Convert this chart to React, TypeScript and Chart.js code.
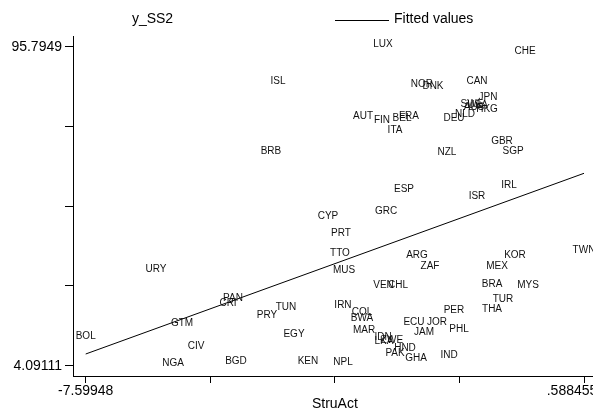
import { useEffect, useRef } from 'react';
import { Chart, registerables } from 'chart.js';

Chart.register(...registerables);

const countries = [
  'LUX', 'CHE', 'ISL', 'NOR', 'DNK', 'CAN', 'JPN', 'SWE', 'AUS', 'USA', 'HKG', 'NLD', 'DEU',
  'AUT', 'FIN', 'BEL', 'FRA', 'ITA', 'BRB', 'GBR', 'SGP', 'NZL', 'ESP', 'IRL', 'ISR',
  'CYP', 'GRC', 'PRT', 'TTO', 'ARG', 'KOR', 'TWN', 'ZAF', 'MEX', 'MUS', 'URY',
  'VEN', 'CHL', 'BRA', 'MYS', 'TUR', 'THA', 'PER', 'IRN', 'COL', 'BWA', 'ECU',
  'JOR', 'PHL', 'MAR', 'JAM', 'IDN', 'LKA', 'ZWE', 'HND', 'PAK', 'GHA', 'IND',
  'KEN', 'NPL', 'NGA', 'BGD', 'EGY', 'TUN', 'PRY', 'PAN', 'CRI', 'GTM', 'BOL', 'CIV',
];

const struAct = [
  -2.714, -0.381, -4.44, -2.074, -1.893, -1.17, -0.989, -1.252, -1.219, -1.16, -1.005, -1.367, -1.548,
  -3.043, -2.731, -2.402, -2.287, -2.517, -4.555, -0.759, -0.578, -1.663, -2.369, -0.644, -1.17,
  -3.618, -2.665, -3.405, -3.421, -2.156, -0.546, 0.588455, -1.942, -0.841, -3.355, -6.444,
  -2.706, -2.468, -0.923, -0.332, -0.743, -0.923, -1.548, -3.372, -3.06, -3.06, -2.205,
  -1.827, -1.466, -3.026, -2.041, -2.714, -2.698, -2.567, -2.353, -2.517, -2.172, -1.63,
  -3.947, -3.372, -6.165, -5.13, -4.177, -4.308, -4.62, -5.179, -5.261, -6.017, -7.59948, -5.787,
];

const ySS2 = [
  95.7949, 93.61, 85.1, 84.24, 83.55, 85.1, 80.39, 78.57, 77.57, 78.1, 77.05, 75.61, 74.35,
  74.92, 73.98, 74.46, 75.04, 71.01, 64.86, 67.74, 65.06, 64.78, 54.05, 55.09, 51.93,
  46.18, 47.61, 41.29, 35.54, 34.97, 34.97, 36.6, 31.8, 31.8, 30.65, 30.94,
  26.34, 26.34, 26.63, 26.34, 22.32, 19.44, 19.27, 20.79, 18.58, 16.85, 15.91,
  15.82, 13.81, 13.4, 12.94, 11.39, 10.24, 10.64, 8.34, 6.79, 5.47, 6.22,
  4.61, 4.41, 4.09111, 4.69, 12.37, 20.02, 17.92, 22.72, 21.17, 15.53, 11.68, 8.8,
];

const fitX = [-7.59948, 0.588455];
const fitY = [7.45, 59.4];

const xTickValues = [-7.59948, -5.5525, -3.50551, -1.45853, 0.588455];
const xTickLabels = ['-7.59948', '', '', '', '.588455'];
const yTickValues = [4.09111, 27.017, 49.943, 72.8689, 95.7949];
const yTickLabels = ['4.09111', '', '', '', '95.7949'];

const FONT = '"Liberation Sans", Arial, Helvetica, sans-serif';

const labelPlugin = {
  id: 'countryLabels',
  afterDatasetsDraw(chart: any) {
    const ctx = chart.ctx;
    const meta = chart.getDatasetMeta(0);
    ctx.save();
    ctx.fillStyle = '#111';
    ctx.textAlign = 'center';
    ctx.textBaseline = 'alphabetic';
    ctx.font = `10px ${FONT}`;
    meta.data.forEach((el: any, i: number) => {
      ctx.fillText(countries[i], el.x, el.y);
    });

    // legend
    ctx.font = `14px ${FONT}`;
    ctx.fillStyle = '#000';
    ctx.textAlign = 'center';
    ctx.fillText('y_SS2', 152.5, 23);
    ctx.strokeStyle = '#000';
    ctx.lineWidth = 1;
    ctx.beginPath();
    ctx.moveTo(335, 20.5);
    ctx.lineTo(389, 20.5);
    ctx.stroke();
    ctx.textAlign = 'left';
    ctx.fillText('Fitted values', 394, 23);

    // x tick labels (last one pulled inward, as in the original)
    const xs = chart.scales.x;
    ctx.textBaseline = 'middle';
    xTickValues.forEach((v, i) => {
      const t = xTickLabels[i];
      if (!t) return;
      const px = xs.getPixelForValue(v);
      ctx.textAlign = 'center';
      const shift = i === xTickValues.length - 1 ? -12 : 0;
      ctx.fillText(t, px + shift, xs.top + 7 + 8.4);
    });

    // x axis title
    ctx.textBaseline = 'alphabetic';
    ctx.textAlign = 'center';
    ctx.fillText('StruAct', xs.getPixelForValue(xTickValues[2]), 408);
    ctx.restore();
  },
};

export default function App() {
  const ref = useRef<HTMLCanvasElement | null>(null);

  useEffect(() => {
    document.body.style.margin = '0';
    if (!ref.current) return;
    const chart = new Chart(ref.current, {
      type: 'scatter',
      data: {
        datasets: [
          {
            label: 'y_SS2',
            data: struAct.map((x, i) => ({ x, y: ySS2[i] })),
            pointRadius: 0,
            pointHoverRadius: 0,
            showLine: false,
          },
          {
            label: 'Fitted values',
            data: fitX.map((x, i) => ({ x, y: fitY[i] })),
            showLine: true,
            borderColor: '#000',
            borderWidth: 1,
            pointRadius: 0,
            fill: false,
          },
        ],
      },
      options: {
        responsive: false,
        animation: false,
        events: [],
        layout: { padding: { top: 36, left: 0, right: 0, bottom: 0 } },
        plugins: {
          legend: { display: false },
          title: { display: false },
          tooltip: { enabled: false },
        },
        scales: {
          x: {
            type: 'linear',
            min: -7.8082,
            max: 0.7363,
            afterBuildTicks: (s: any) => {
              s.ticks = xTickValues.map((v) => ({ value: v }));
            },
            afterFit: (s: any) => {
              s.height = 34;
              s.paddingLeft = 0;
              s.paddingRight = 0;
              s.paddingTop = 0;
              s.paddingBottom = 0;
            },
            grid: {
              display: true,
              drawOnChartArea: false,
              drawTicks: true,
              tickLength: 7,
              color: '#000',
            },
            border: { display: true, color: '#000', width: 1 },
            ticks: {
              autoSkip: false,
              maxRotation: 0,
              minRotation: 0,
              padding: 0,
              color: '#000',
              font: { family: FONT, size: 14 },
              callback: () => '',
            },
          },
          y: {
            type: 'linear',
            min: 1.13,
            max: 98.871,
            afterBuildTicks: (s: any) => {
              s.ticks = yTickValues.map((v) => ({ value: v }));
            },
            afterFit: (s: any) => {
              s.width = 73;
              s.paddingLeft = 0;
              s.paddingRight = 0;
              s.paddingTop = 0;
              s.paddingBottom = 0;
            },
            grid: {
              display: true,
              drawOnChartArea: false,
              drawTicks: true,
              tickLength: 8,
              color: '#000',
            },
            border: { display: true, color: '#000', width: 1 },
            ticks: {
              autoSkip: false,
              padding: 3,
              color: '#000',
              font: { family: FONT, size: 14 },
              callback: (_v: any, i: number) => yTickLabels[i],
            },
          },
        },
      },
      plugins: [labelPlugin],
    });
    return () => chart.destroy();
  }, []);

  return <canvas ref={ref} width={593} height={410} style={{ display: 'block' }} />;
}
